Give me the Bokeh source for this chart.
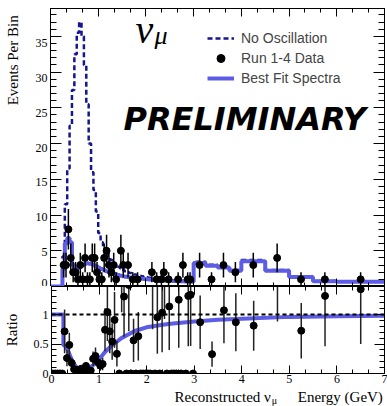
import math
import numpy as np
from bokeh.plotting import figure
from bokeh.layouts import column, row
from bokeh.models import (ColumnDataSource, Range1d, FixedTicker, LinearAxis, Legend,
                          LegendItem, Label, Span)
from bokeh.core.properties import value
from bokeh.embed import file_html
from bokeh.resources import INLINE

# ---------------- data ----------------
fine_edges = [round(0.05 * i, 2) for i in range(61)]
coarse_edges = [3.25, 3.5, 3.75, 4.0, 4.5, 5.0, 5.5, 6.0, 7.0]
bin_edges = fine_edges + coarse_edges

no_osc = [0, 0, 0, 0, 0,
          4.2, 11.5, 16.5, 22.5, 27.5, 32.5, 35.5, 37.0, 35.0, 31.0, 25.5, 20.0, 16.0, 13.5, 10.5,
          7.5, 6.2, 5.4, 4.8, 4.2, 3.7, 3.3, 3.0, 2.75, 2.55,
          2.3, 2.15, 2.0, 1.9, 1.78, 1.68, 1.58, 1.5, 1.42, 1.35,
          1.28, 1.22, 1.16, 1.1, 1.05, 1.0, 0.97, 0.94, 0.91, 0.88,
          0.86, 0.84, 0.82, 0.8, 0.78, 0.77, 0.76, 0.76, 0.75, 0.74,
          3.45, 3.05, 2.8, 2.3, 3.7, 2.3, 1.38, 0.76, 0.7]

best_fit = [0, 0, 0, 0, 0,
            2.5, 6.0, 6.8, 6.2, 3.0, 2.6, 2.6, 2.8, 3.0, 3.15, 3.25, 3.2, 3.1, 2.95, 2.8,
            2.6, 2.45, 2.3, 2.15, 2.0, 1.9, 1.8, 1.7, 1.6, 1.52,
            1.45, 1.38, 1.32, 1.27, 1.22, 1.18, 1.14, 1.1, 1.07, 1.04,
            1.01, 0.98, 0.95, 0.92, 0.9, 0.88, 0.86, 0.84, 0.82, 0.8,
            0.79, 0.77, 0.76, 0.74, 0.73, 0.72, 0.71, 0.7, 0.69, 0.68,
            3.3, 2.9, 2.65, 2.2, 3.55, 2.2, 1.32, 0.74, 0.68]

data_counts = [0, 0, 0, 0, 0,
               3, 3, 8, 4, 2, 2, 1, 3, 1, 4, 1, 1, 4, 4, 2,
               1, 1, 4, 5, 3, 2, 3, 1, 0, 5,
               3, 0, 3, 0, 1, 0, 1, 0, 0, 0,
               0, 0, 2, 0, 1, 0, 1, 2, 0, 1,
               0, 0, 0, 1, 0, 3, 0, 1, 1, 0,
               3, 1, 3, 2, 3, 4, 1, 1, 1]

ratio_curve_e = [0.0, 0.25, 0.25, 0.30, 0.35, 0.42, 0.49, 0.56, 0.66, 0.77, 0.87, 0.98,
                 1.12, 1.26, 1.47, 1.75, 2.03, 2.45, 3.0, 3.5, 4.0, 5.0, 6.0, 7.0]
ratio_curve_r = [1.0, 1.0, 0.48, 0.47, 0.38, 0.24, 0.14, 0.08, 0.05, 0.07, 0.14, 0.22,
                 0.36, 0.47, 0.60, 0.72, 0.79, 0.84, 0.88, 0.91, 0.93, 0.96, 0.97, 0.98]

x_major = [0, 1, 2, 3, 4, 5, 6, 7]
y_major = [0, 5, 10, 15, 20, 25, 30, 35]
y_labels = ["0", "5", "10", "15", "20", "25", "30", "35"]
r_major = [0, 0.5, 1]

# ---------------- derived ----------------
edges = np.array(bin_edges)
centers = 0.5 * (edges[:-1] + edges[1:])
counts = np.array(data_counts, dtype=float)
nos = np.array(no_osc, dtype=float)
has = counts > 0
err = np.sqrt(counts)
ratio = np.where(nos > 0, counts / np.where(nos > 0, nos, 1), 0.0)
rel = np.where(has, 0.65 / np.power(np.where(has, counts, 1), 0.2), 0.0)
ratio_err = ratio * rel

step_x = list(edges)
noosc_y = list(no_osc) + [no_osc[-1]]
best_y = list(best_fit) + [best_fit[-1]]

top_src = ColumnDataSource(dict(x=centers[has], y=counts[has], lo=counts[has] - err[has], hi=counts[has] + err[has]))
rat_src = ColumnDataSource(dict(x=centers[has], y=ratio[has], lo=ratio[has] - ratio_err[has], hi=ratio[has] + ratio_err[has]))
zero_src = ColumnDataSource(dict(x=centers[~has], y=ratio[~has]))

SERIF = "Liberation Serif"
SANS = "Liberation Sans"
NAVY = "#16168f"
BLUE = "#5c5ce6"

X0, X1 = 0.0, 7.0
Y1 = 38.9           # top panel y max
R1 = 1.475          # ratio panel y max
TOP_FRAME = (8, 286)      # page px of top panel frame
x_minor = [i / 3 for i in range(22)]
y_minor = list(range(0, 39))
r_minor = [round(0.1 * i, 1) for i in range(15)]


def base_axis(ax):
    ax.major_tick_out = 0
    ax.minor_tick_out = 0
    ax.axis_line_color = "black"
    ax.major_tick_line_color = "black"
    ax.minor_tick_line_color = "black"


def tick_axis(p, side, majors, minors, tin, tmin):
    # tick marks only (no text): two label-free axes on the same frame edge
    for pos, ln in ((majors, tin), (minors, tmin)):
        ax = LinearAxis(ticker=FixedTicker(ticks=[], minor_ticks=pos))
        base_axis(ax)
        ax.major_tick_in = 0
        ax.minor_tick_in = ln
        ax.major_label_standoff = 0
        p.add_layout(ax, side)


def clean(p):
    p.xgrid.grid_line_color = None
    p.ygrid.grid_line_color = None
    p.background_fill_color = "white"
    p.border_fill_color = "white"


# ---------------- left text strip for the top panel ----------------
strip = figure(width=50, height=286, x_range=Range1d(0, 50), y_range=Range1d(286, 0),
               output_backend="svg", toolbar_location=None,
               x_axis_location=None, y_axis_location=None,
               min_border_left=0, min_border_right=0, min_border_top=0, min_border_bottom=0)
clean(strip)
strip.outline_line_color = None
px_per = (TOP_FRAME[1] - TOP_FRAME[0]) / Y1
tick_py = [min(TOP_FRAME[1] - v * px_per, TOP_FRAME[1] - 3.5) for v in y_major]
strip.text(x=[47] * len(y_major), y=tick_py, text=y_labels, text_align="right",
           text_baseline="middle", text_font=value(SERIF), text_font_size="12px",
           text_color="black")
strip.add_layout(Label(x=12, y=7, text="Events Per Bin", text_font=SERIF,
                       text_font_size="15px", angle=math.pi / 2, text_align="right",
                       text_baseline="middle", text_color="black"))

# ---------------- top panel ----------------
p1 = figure(width=337, height=286, x_range=Range1d(X0, X1), y_range=Range1d(0, Y1),
            output_backend="svg", toolbar_location=None,
            x_axis_location=None, y_axis_location=None,
            min_border_left=0, min_border_right=3, min_border_top=8, min_border_bottom=0)
clean(p1)
p1.outline_line_color = "black"

tick_axis(p1, "left", y_major, y_minor, 11, 6)
tick_axis(p1, "right", y_major, y_minor, 11, 6)
tick_axis(p1, "below", x_major, x_minor, 8, 4)
tick_axis(p1, "above", x_major, x_minor, 8, 4)

r_noosc = p1.step(step_x, noosc_y, mode="after", line_color=NAVY, line_width=2.5, line_dash="5 3")
r_best = p1.step(step_x, best_y, mode="after", line_color=BLUE, line_width=4)
p1.segment(x0="x", y0="lo", x1="x", y1="hi", source=top_src, line_color="black", line_width=1.5)
r_data = p1.scatter(x="x", y="y", source=top_src, size=7, color="black")

legend = Legend(items=[LegendItem(label="No Oscillation", renderers=[r_noosc]),
                       LegendItem(label="Run 1-4 Data", renderers=[r_data]),
                       LegendItem(label="Best Fit Spectra", renderers=[r_best])],
                location=(157, 198), padding=0, margin=0, spacing=0,
                glyph_width=27, glyph_height=20, label_height=20, label_standoff=7,
                border_line_color=None, background_fill_alpha=0,
                label_text_font=SANS, label_text_font_size="14px")
p1.add_layout(legend)

p1.add_layout(Label(x=1.78, y=35.9, text="ν", text_font=SERIF, text_font_size="40px",
                    text_font_style="italic", text_color="black", text_baseline="middle"))
p1.add_layout(Label(x=2.18, y=35.06, text="μ", text_font=SERIF, text_font_size="26px",
                    text_font_style="italic", text_color="black", text_baseline="middle"))
p1.add_layout(Label(x=1.53, y=23.37, text="PRELIMINARY", text_font="DejaVu Sans",
                    text_font_size="32px", text_font_style="bold italic", text_color="black",
                    text_baseline="middle"))

# ---------------- ratio panel ----------------
p2 = figure(width=387, height=102, x_range=p1.x_range, y_range=Range1d(0, R1),
            output_backend="svg", toolbar_location=None,
            x_axis_location=None, y_axis_location=None,
            min_border_left=50, min_border_right=3, min_border_top=0, min_border_bottom=15)
clean(p2)
p2.outline_line_color = "black"

ax = LinearAxis(ticker=FixedTicker(ticks=r_major, minor_ticks=r_minor))
base_axis(ax)
ax.major_tick_in = 10
ax.minor_tick_in = 5
ax.major_label_text_font = SERIF
ax.major_label_text_font_size = "12px"
ax.major_label_text_color = "black"
ax.major_label_standoff = 3
ax.major_label_overrides = {0: "0", 0.5: "0.5", 1: "1"}
ax.axis_label = "Ratio"
ax.axis_label_text_font = SERIF
ax.axis_label_text_font_size = "15px"
ax.axis_label_text_font_style = "normal"
ax.axis_label_text_color = "black"
ax.axis_label_standoff = 11
p2.add_layout(ax, "left")

ax = LinearAxis(ticker=FixedTicker(ticks=x_major, minor_ticks=x_minor))
base_axis(ax)
ax.major_tick_in = 8
ax.minor_tick_in = 4
ax.major_label_text_font = SERIF
ax.major_label_text_font_size = "12px"
ax.major_label_text_color = "black"
ax.major_label_standoff = 1
p2.add_layout(ax, "below")

tick_axis(p2, "right", r_major, r_minor, 10, 5)
tick_axis(p2, "above", x_major, x_minor, 8, 4)

p2.line(ratio_curve_e, ratio_curve_r, line_color=BLUE, line_width=4)
p2.segment(x0="x", y0="lo", x1="x", y1="hi", source=rat_src, line_color="#222222", line_width=1.5)
p2.add_layout(Span(location=1, dimension="width", line_color="black", line_width=2, line_dash="4 3"))
p2.scatter(x="x", y="y", source=rat_src, size=7, color="black")
p2.scatter(x="x", y="y", source=zero_src, size=7, color="black")

# ---------------- x-axis title strip (frame aligned with the panels above) ----------------
k = 334 / (X1 - X0)
p3 = figure(width=387, height=18, x_range=Range1d(X0, X1), y_range=Range1d(0, 18),
            output_backend="svg", toolbar_location=None,
            x_axis_location=None, y_axis_location=None,
            min_border_left=50, min_border_right=3, min_border_top=0, min_border_bottom=0)
clean(p3)
p3.outline_line_color = None

p3.add_layout(Label(x=(270 - 50) / k, y=9.5, text="Reconstructed ν", text_font=SERIF,
                    text_font_size="15px", text_align="right", text_baseline="middle",
                    text_color="black"))
p3.add_layout(Label(x=(271 - 50) / k, y=6.5, text="μ", text_font=SERIF, text_font_size="10px",
                    text_align="left", text_baseline="middle", text_color="black"))
p3.add_layout(Label(x=(297 - 50) / k, y=9.5, text="Energy (GeV)", text_font=SERIF,
                    text_font_size="15px", text_align="left", text_baseline="middle",
                    text_color="black"))

layout = column(row(strip, p1, spacing=0), p2, p3, spacing=0)
open("out.html", "w").write(file_html(layout, INLINE))
